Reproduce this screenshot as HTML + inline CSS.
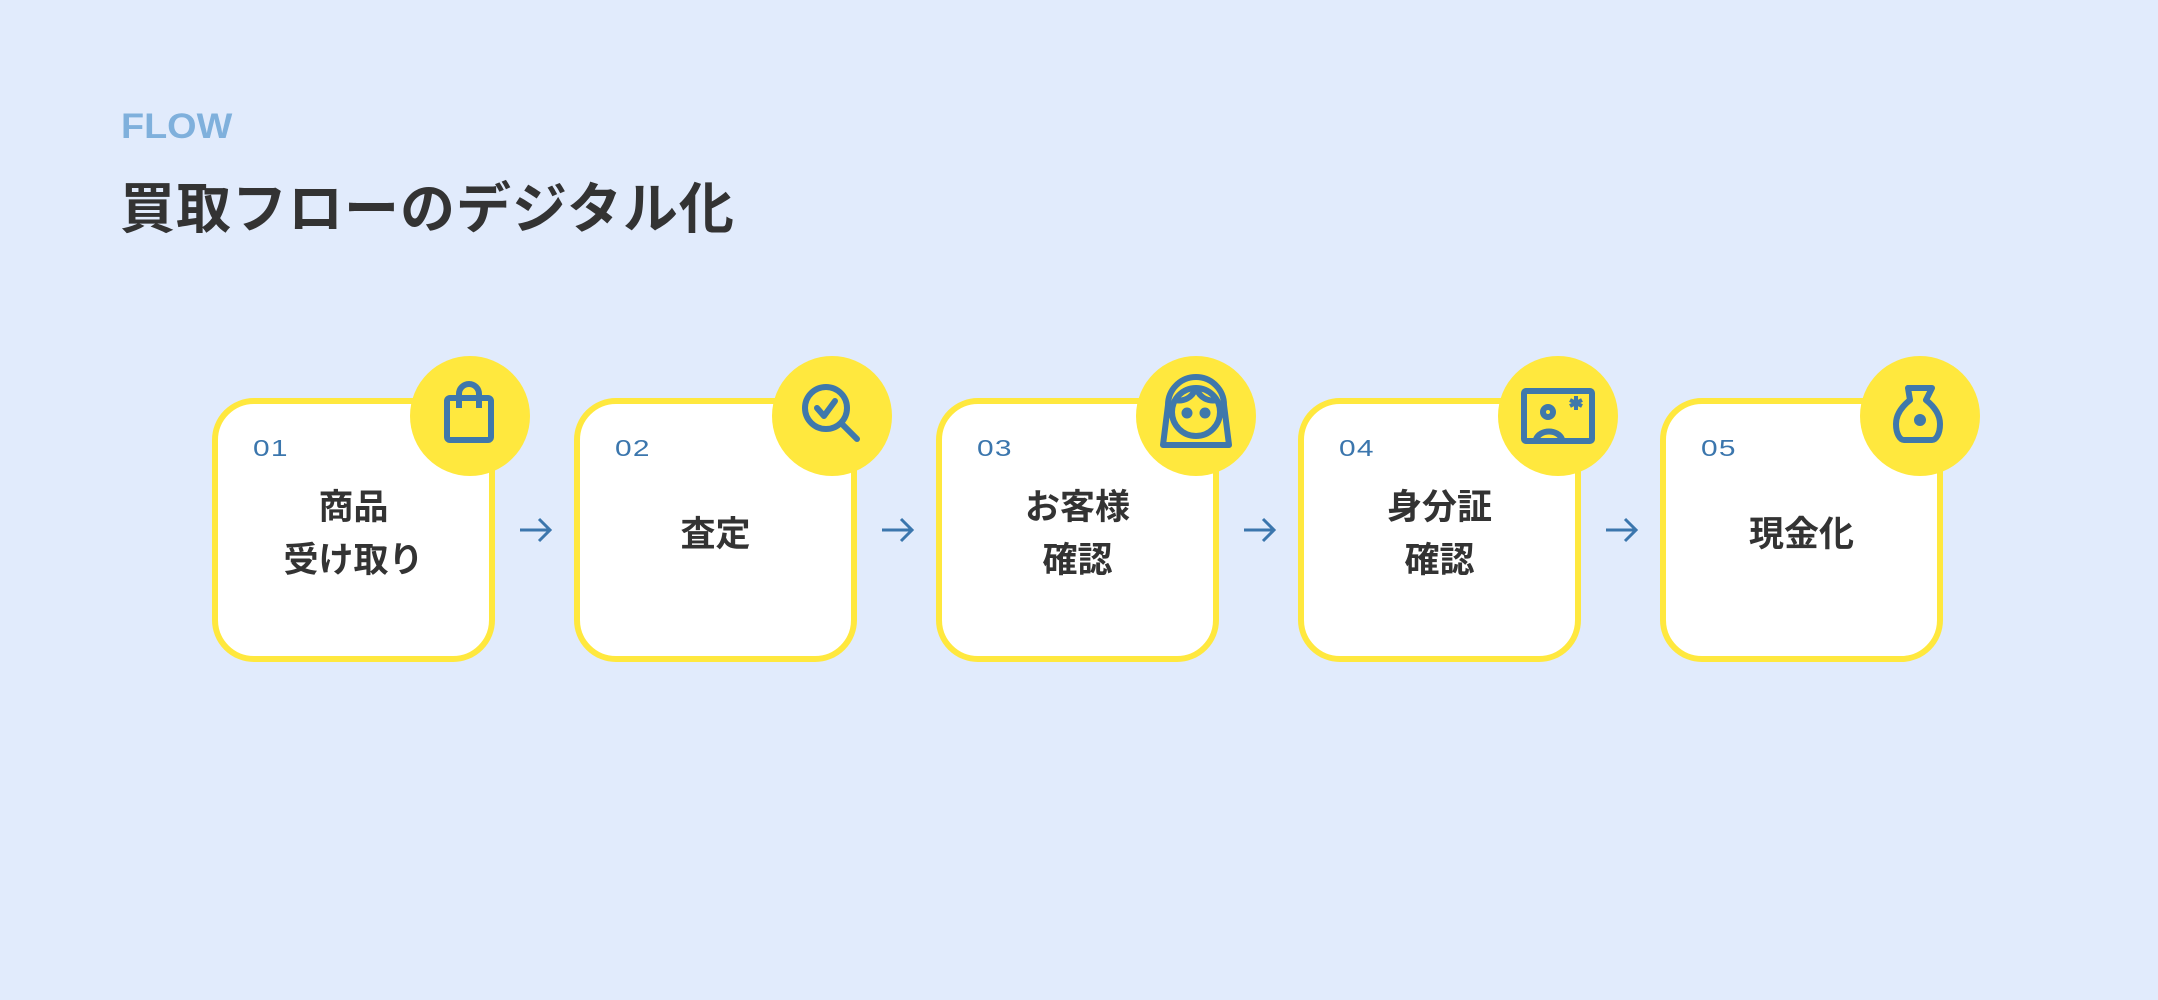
<!DOCTYPE html>
<html><head><meta charset="utf-8"><style>
body{margin:0;width:2158px;height:1000px;background:#e1ebfc;position:relative;overflow:hidden;font-family:"Liberation Sans","Noto Sans CJK JP",sans-serif}
.flow{position:absolute;left:121px;top:107px;font-size:35px;font-weight:bold;color:#7fb0dc;letter-spacing:0px;transform:scaleX(1.08);transform-origin:left}
.title{position:absolute;left:120px;top:164px;font-size:55px;font-weight:bold;color:#333;letter-spacing:1px}
.card{position:absolute;top:398px;width:271px;height:252px;border:6px solid #ffe83e;border-radius:42px;background:#fff}
.num{position:absolute;left:35px;top:31px;font-size:23px;color:#3b76ad;transform:scaleX(1.3);transform-origin:left;letter-spacing:1px}
.txt{position:absolute;left:0;right:0;text-align:center;font-size:35px;font-weight:bold;color:#333;line-height:53px}
.circ{position:absolute;top:356px;width:120px;height:120px;border-radius:50%;background:#ffe83e}
.circ svg{position:absolute;left:0;top:0}
.arr{position:absolute;top:516px}
</style></head><body>
<div class="flow">FLOW</div>
<div class="title">買取フローのデジタル化</div>

<div class="card" style="left:212px"><div class="num">01</div><div class="txt" style="top:77px">商品<br>受け取り</div></div>
<div class="card" style="left:574px"><div class="num">02</div><div class="txt" style="top:104px">査定</div></div>
<div class="card" style="left:936px"><div class="num">03</div><div class="txt" style="top:77px">お客様<br>確認</div></div>
<div class="card" style="left:1298px"><div class="num">04</div><div class="txt" style="top:77px">身分証<br>確認</div></div>
<div class="card" style="left:1660px"><div class="num">05</div><div class="txt" style="top:104px">現金化</div></div>

<div class="circ" style="left:410px"><svg width="120" height="120" fill="none" stroke="#3f78ab" stroke-width="6" stroke-linejoin="round"><rect x="37" y="42" width="44" height="42" rx="3"/><path d="M49 52V38a10 10 0 0 1 20 0v14"/></svg></div>
<div class="circ" style="left:772px"><svg width="120" height="120" fill="none" stroke="#3f78ab" stroke-width="6" stroke-linecap="round" stroke-linejoin="round"><circle cx="54" cy="52" r="21"/><path d="M69 67l16 16"/><path d="M45 52l7 8 11-15"/></svg></div>
<div class="circ" style="left:1136px"><svg width="120" height="120" fill="none" stroke="#3f78ab" stroke-width="6" stroke-linejoin="round"><path d="M27 89l5-40a28 28 0 0 1 56 0l5 40z"/><circle cx="60" cy="56" r="24"/><path d="M38 44c10 2 18-2 22-12c4 10 12 14 22 12"/><circle cx="51" cy="57" r="2.5" fill="#3f78ab"/><circle cx="69" cy="57" r="2.5" fill="#3f78ab"/></svg></div>
<div class="circ" style="left:1498px"><svg width="120" height="120" fill="none" stroke="#3f78ab" stroke-width="6" stroke-linejoin="round"><rect x="26" y="35" width="68" height="50" rx="2"/><circle cx="50" cy="56" r="5"/><path d="M38 83a14 12 0 0 1 26 0"/><path d="M78 40v14M72 44l12 6M84 44l-12 6" stroke-width="4"/></svg></div>
<div class="circ" style="left:1860px"><svg width="120" height="120" fill="none" stroke="#3f78ab" stroke-width="6" stroke-linejoin="round"><path d="M48 32h24l-6 12c10 8 14 16 14 24c0 10-4 16-8 16H44c-4 0-8-6-8-16c0-8 4-16 14-24z"/><circle cx="60" cy="64" r="3" fill="#3f78ab"/></svg></div>

<svg class="arr" style="left:519px" width="34" height="28" fill="none" stroke="#3b76ad" stroke-width="3"><path d="M1 14h30M20 3l11 11-11 11"/></svg>
<svg class="arr" style="left:881px" width="34" height="28" fill="none" stroke="#3b76ad" stroke-width="3"><path d="M1 14h30M20 3l11 11-11 11"/></svg>
<svg class="arr" style="left:1243px" width="34" height="28" fill="none" stroke="#3b76ad" stroke-width="3"><path d="M1 14h30M20 3l11 11-11 11"/></svg>
<svg class="arr" style="left:1605px" width="34" height="28" fill="none" stroke="#3b76ad" stroke-width="3"><path d="M1 14h30M20 3l11 11-11 11"/></svg>
</body></html>
